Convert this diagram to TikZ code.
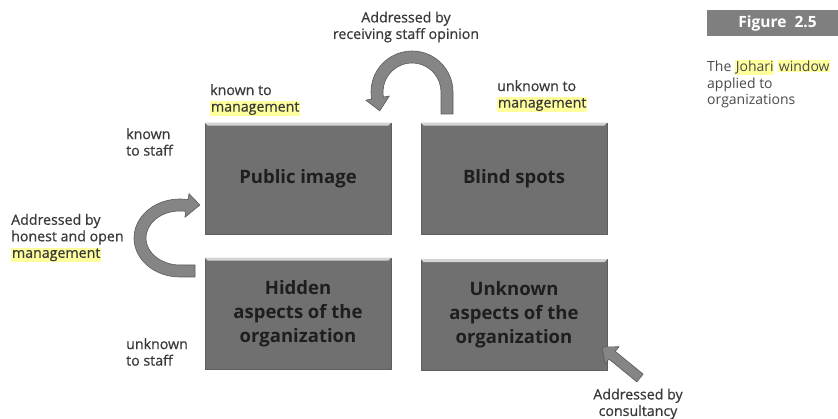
\documentclass[tikz,border=0pt]{standalone}
\usepackage{fontspec}
\setmainfont{Open Sans}
\newfontfamily\labelfont[FakeBold=0.7]{Open Sans}
\usetikzlibrary{calc}
\definecolor{panelfill}{HTML}{707070}
\definecolor{paneledge}{HTML}{5E5E5E}
\definecolor{paneltop}{HTML}{D4D4D4}
\definecolor{paneltext}{HTML}{1E1E1E}
\definecolor{arrowfill}{HTML}{858585}
\definecolor{arrowedge}{HTML}{5A5A5A}
\definecolor{labeltext}{HTML}{3A3A3A}
\definecolor{captext}{HTML}{4A4A4A}
\definecolor{hly}{HTML}{FFFF9E}
\definecolor{figfill}{HTML}{7F7F7F}
\newcommand\hlword[1]{{\setlength\fboxsep{0.8pt}\colorbox{hly}{#1}}}
\tikzset{
  panel/.style={rectangle, fill=panelfill, draw=paneledge, line width=0.5pt,
    minimum width=186pt, minimum height=111pt, inner sep=0pt,
    text=paneltext, align=center,
    font=\fontsize{18.5}{24}\selectfont\bfseries},
  bentarrow/.style={fill=arrowfill, draw=arrowedge, line width=0.6pt, line join=round},
  lbl/.style={inner sep=0pt, text=labeltext, align=left,
    font=\fontsize{14.2}{16.5}\labelfont},
  caption/.style={inner sep=0pt, text=captext, align=left,
    font=\fontsize{14}{16.5}\selectfont},
  figbox/.style={rectangle, fill=figfill, text=white, inner sep=0pt,
    minimum width=131pt, minimum height=26pt,
    font=\fontsize{15.5}{17}\selectfont\bfseries}
}
\begin{document}
\begin{tikzpicture}[x=1pt, y=1pt]
\useasboundingbox (0,0) rectangle (838,419);

% the four panes of the window
\node[panel] (pub) at (298,240.5) {Public image};
\node[panel] (blind) at (514,240.5) {Blind spots};
\node[panel] (hid) at (298,105.5) {Hidden\\aspects of the\\organization};
\node[panel] (unk) at (514,104) {Unknown\\aspects of the\\organization};
\foreach \p in {pub,blind,hid,unk}{
  \fill[paneltop] (\p.north west) -- (\p.north east)
    -- ([xshift=-3pt,yshift=-3pt]\p.north east)
    -- ([xshift=3pt,yshift=-3pt]\p.north west) -- cycle;
}

% arrow over the top: from blind spots back to public image
\coordinate (tc) at (412,327);
\filldraw[bentarrow] ($(tc)+(41,-22)$) -- ($(tc)+(41,0)$)
  arc[start angle=0, end angle=190, radius=41]
  -- ($(tc)+(190:47)$) -- ($(tc)+(190:35)+(280:13)$) -- ($(tc)+(190:23)$)
  -- ($(tc)+(190:29)$) arc[start angle=190, end angle=0, radius=29]
  -- ($(tc)+(29,-22)$) -- cycle;

% arrow on the left: from hidden aspects up to public image
\coordinate (lc) at (180,181);
\filldraw[bentarrow] ($(lc)+(15,-39)$) -- ($(lc)+(0,-39)$)
  arc[start angle=270, end angle=80, x radius=46, y radius=39]
  -- ($(lc)+(80:52 and 45)$) -- ($(lc)+(80:40 and 33)+(13,0.5)$)
  -- ($(lc)+(80:28 and 21)$) -- ($(lc)+(80:34 and 27)$)
  arc[start angle=80, end angle=270, x radius=34, y radius=27]
  -- ($(lc)+(15,-27)$) -- cycle;

% straight arrow into the unknown pane
\begin{scope}[shift={(640,41)}, rotate=140.8]
  \filldraw[bentarrow] (0,-5) -- (36,-5) -- (36,-11) -- (49,0)
    -- (36,11) -- (36,5) -- (0,5) -- cycle;
\end{scope}

% labels
\node[lbl, align=center] (ltop) at (406,392) {Addressed by\\receiving staff opinion};
\node[lbl, anchor=west] (lkm) at (210,319) {known to\\\hlword{management}};
\node[lbl, anchor=west] (lum) at (497,323) {unknown to\\\hlword{management}};
\node[lbl, anchor=west] (lks) at (126,277) {known\\to staff};
\node[lbl, anchor=west] (lleft) at (11,181) {Addressed by\\honest and open\\\hlword{management}};
\node[lbl, anchor=west] (lus) at (126,67) {unknown\\to staff};
\node[lbl, align=center] (lcons) at (638,15) {Addressed by\\consultancy};

% figure tag and caption
\node[figbox] (fig) at (772.5,396) {\hspace*{10pt}Figure\ \ 2.5};
\node[caption, anchor=west] (cap) at (707,335)
  {The \hlword{Johari} \hlword{window}\\applied to\\organizations};
\end{tikzpicture}
\end{document}
